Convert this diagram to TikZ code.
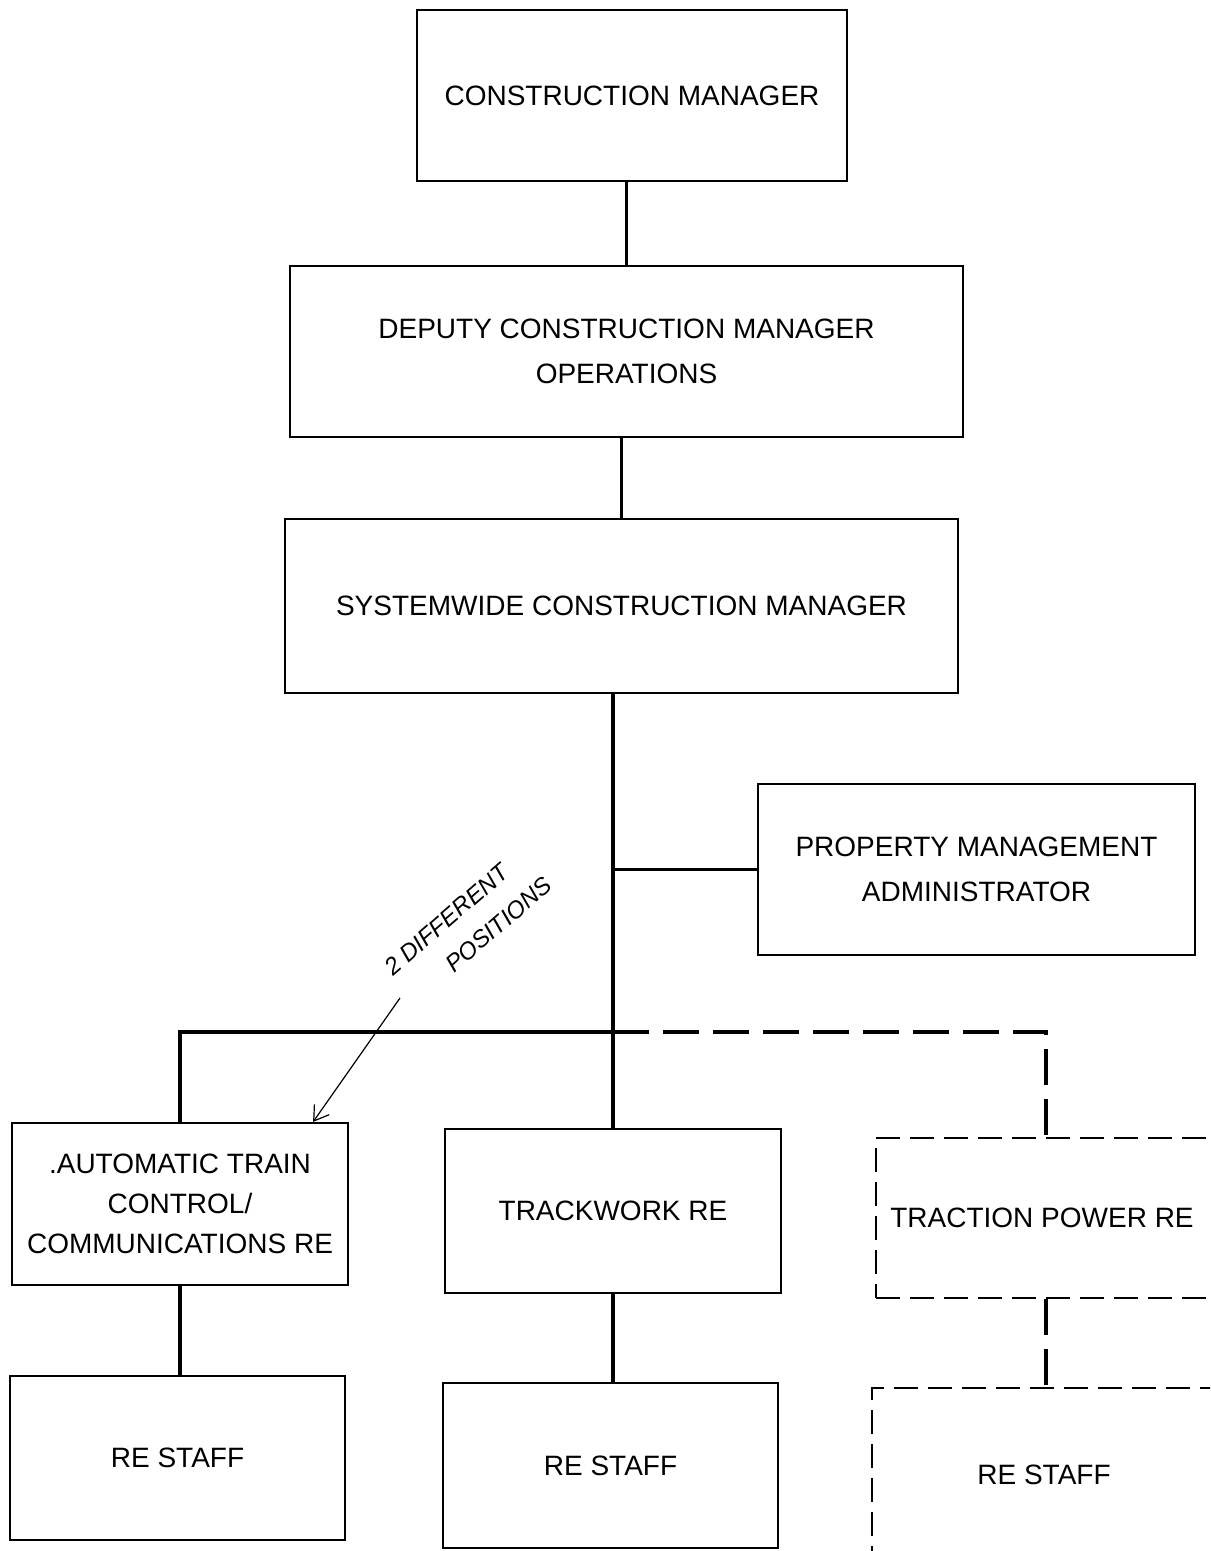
\documentclass[tikz,border=0pt]{standalone}
\usepackage{fontspec}
\setmainfont{Liberation Sans}
\usetikzlibrary{arrows.meta}
\begin{document}
\begin{tikzpicture}[x=0.5pt,y=-0.5pt,
  box/.style={draw,line width=1.1pt,rectangle,align=center,inner sep=0pt,
    font=\fontsize{14}{22.5}\selectfont},
  dbox/.style={box,dash pattern=on 12pt off 5pt},
  conn/.style={line width=1.9pt},
  dconn/.style={line width=1.9pt,dash pattern=on 18pt off 7pt},
  note/.style={font=\fontsize{12}{19}\itshape\selectfont,inner sep=0pt,align=left}]
\clip (0,0) rectangle (1210,1551);
\fill[white] (0,0) rectangle (1210,1551);
\node[box,minimum width=215pt,minimum height=85.5pt] (cm) at (632,95.5) {CONSTRUCTION MANAGER};
\node[box,minimum width=336.5pt,minimum height=85.5pt] (dep) at (626.5,351.5) {DEPUTY CONSTRUCTION MANAGER\\OPERATIONS};
\node[box,minimum width=336.5pt,minimum height=87pt] (sw) at (621.5,606) {SYSTEMWIDE CONSTRUCTION MANAGER};
\node[box,minimum width=218.5pt,minimum height=85.5pt] (pm) at (976.5,869.5) {PROPERTY MANAGEMENT\\ADMINISTRATOR};
\node[box,minimum width=168pt,minimum height=81pt,font=\fontsize{14}{20}\selectfont] (atc) at (180,1204) {.AUTOMATIC TRAIN\\CONTROL/\\COMMUNICATIONS RE};
\node[box,minimum width=168pt,minimum height=82pt] (tw) at (613,1211) {TRACKWORK RE};
\node[dbox,minimum width=170pt,minimum height=80pt] (tp) at (1046,1218) {\hspace*{-4pt}TRACTION POWER RE};
\node[box,minimum width=167.5pt,minimum height=82pt] (rs1) at (177.5,1458) {RE STAFF};
\node[box,minimum width=167.5pt,minimum height=82.5pt] (rs2) at (610.5,1465.5) {RE STAFF};
\node[dbox,minimum width=172pt,minimum height=87pt] (rs3) at (1044,1475) {RE STAFF};
% connectors
\draw[conn] (dep.north |- cm.south) -- (dep.north);
\draw[conn] (sw.north |- dep.south) -- (sw.north);
\draw[conn] (tw.north |- sw.south) -- (tw.north);
\draw[conn] (tw.north |- pm.west) -- (pm.west);
\coordinate (bus) at (613,1032);
\draw[conn] (atc.north) -- (atc.north |- bus) -- (bus);
\draw[dconn] (bus) -- (tp.north |- bus) -- (tp.north);
\draw[conn] (atc.south) -- (atc.south |- rs1.north);
\draw[conn] (tw.south) -- (tw.south |- rs2.north);
\draw[dconn] (tp.south) -- (tp.south |- rs3.north);
% annotation
\node[note,rotate=41] (n1) at (468,926) {2 DIFFERENT\\\hspace*{24pt}POSITIONS};
\coordinate (nstart) at (400,998);
\draw[line width=0.6pt,-{Straight Barb[length=7pt,width=9pt]}] (nstart) -- ([xshift=-18pt]atc.north east);
\end{tikzpicture}
\end{document}
